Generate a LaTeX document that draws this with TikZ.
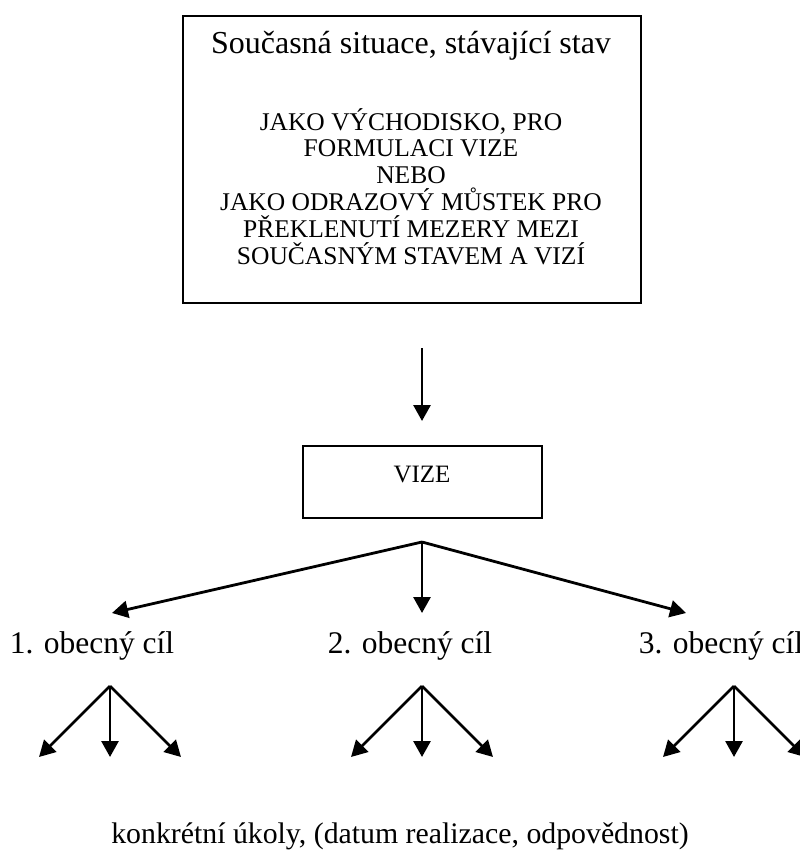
\documentclass[tikz,border=0pt]{standalone}
\usepackage{fontspec}
\setmainfont{Liberation Serif}
\usetikzlibrary{arrows.meta}
\begin{document}
\begin{tikzpicture}[x=1pt,y=-1pt,
    box/.style={draw,line width=2pt,inner sep=0pt},
    arr/.style={line width=2.8pt,-{Triangle[width=17pt,length=16pt]}},
    goal/.style={font=\fontsize{31.5}{36}\selectfont,inner sep=0pt,anchor=base}]
    \useasboundingbox (0,0) rectangle (800,857);
    %% Blocks
    \node[box,minimum width=458pt,minimum height=287pt,anchor=north west] (state) at (182,15) {};
    \node[anchor=base,inner sep=0pt,font=\fontsize{32}{36}\selectfont] (title) at (411,53) {Současná situace, stávající stav};
    \node[anchor=north,inner sep=0pt,align=center,font=\fontsize{25.5}{26.8}\selectfont] (role) at (411,108)
        {JAKO VÝCHODISKO, PRO\\FORMULACI VIZE\\NEBO\\JAKO ODRAZOVÝ MŮSTEK PRO\\PŘEKLENUTÍ MEZERY MEZI\\SOUČASNÝM STAVEM A VIZÍ};
    \node[box,minimum width=239pt,minimum height=72pt] (vize) at (422,482) {};
    \node[anchor=base,inner sep=0pt,font=\fontsize{25}{30}\selectfont] (vizetext) at (422,482) {VIZE};
    %% arrow to the vision
    \coordinate (in0) at (422,348);
    \coordinate (in1) at (422,421);
    \draw[arr] (in0) -- (in1);
    %% general goals
    \coordinate (fork) at (422,542);
    \coordinate (g1tip) at (112,613);
    \coordinate (g2tip) at (422,613);
    \coordinate (g3tip) at (686,613);
    \foreach \i in {1,2,3}
        \draw[arr] (fork) -- (g\i tip);
    \node[goal] (g1) at (92,653) {1. obecný cíl};
    \node[goal] (g2) at (410,653) {2. obecný cíl};
    \node[goal] (g3) at (721,653) {3. obecný cíl};
    %% tasks
    \foreach \i/\x in {1/110,2/422,3/734}{
        \coordinate (top\i) at (\x,686);
        \foreach \d/\n in {-71/l,0/m,71/r}{
            \coordinate (tip\i\n) at (\x+\d,757);
            \draw[arr] (top\i) -- (tip\i\n);
        }
    }
    \node[goal,font=\fontsize{29.8}{34}\selectfont] (tasks) at (400,843) {konkrétní úkoly, (datum realizace, odpovědnost)};
\end{tikzpicture}
\end{document}
